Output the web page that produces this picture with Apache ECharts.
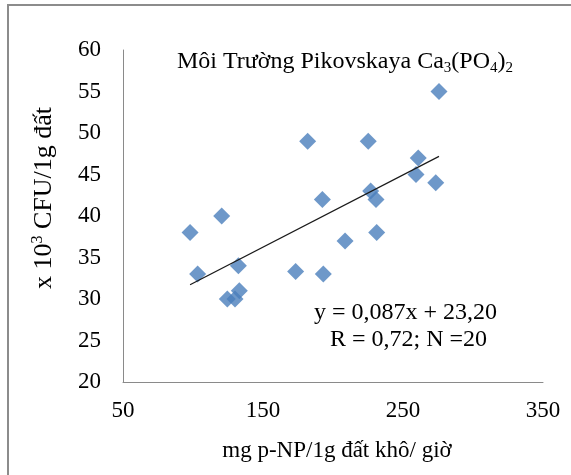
<!DOCTYPE html>
<html>
<head>
<meta charset="utf-8">
<script src="https://cdn.jsdelivr.net/npm/echarts@6/dist/echarts.min.js"></script>
<style>
  html, body { margin: 0; padding: 0; background: #ffffff; }
  #chart { width: 571px; height: 475px; }
</style>
</head>
<body>
<div id="chart"></div>
<script>
// Phosphatase activity (mg p-NP / 1 g dry soil / hour) per sample
const activity = [97.9, 103.3, 120.5, 132.4, 133.1, 124.5, 130.0, 173.3, 181.9, 192.4,
                  193.1, 208.6, 225.2, 226.9, 230.7, 231.2, 259.3, 260.9, 273.4, 275.7];
// Colony counts (x 10^3 CFU / 1 g soil) per sample
const cfu = [38, 33, 40, 34, 31, 30, 30, 33.3, 49, 42,
             33, 37, 49, 43, 42, 38, 45, 47, 44, 55];

// Axis ranges
const xTicks = [50, 150, 250, 350];
const yTicks = [20, 25, 30, 35, 40, 45, 50, 55, 60];

// Linear fit stated on the chart: y = 0,087x + 23,20
const fitSlope = 0.087;
const fitIntercept = 23.20;

const serif = '"Liberation Serif", "Times New Roman", serif';

const points = activity.map((x, i) => [x, cfu[i]]);
const xMin = Math.min(...activity);
const xMax = Math.max(...activity);
const fitLine = [
  [xMin, fitSlope * xMin + fitIntercept],
  [xMax, fitSlope * xMax + fitIntercept]
];

const chart = echarts.init(document.getElementById('chart'), null, { renderer: 'canvas' });

chart.setOption({
  animation: false,
  backgroundColor: '#ffffff',
  grid: { left: 123, top: 50, right: 28, bottom: 93, containLabel: false },
  xAxis: {
    type: 'value',
    min: xTicks[0],
    max: xTicks[xTicks.length - 1],
    interval: xTicks[1] - xTicks[0],
    axisLine: { show: true, onZero: false, lineStyle: { color: '#8a8a8a', width: 1 } },
    axisTick: { show: false },
    splitLine: { show: false },
    axisLabel: { color: '#000', fontFamily: serif, fontSize: 23, margin: 17 }
  },
  yAxis: {
    type: 'value',
    min: yTicks[0],
    max: yTicks[yTicks.length - 1],
    interval: yTicks[1] - yTicks[0],
    axisLine: { show: true, onZero: false, lineStyle: { color: '#8a8a8a', width: 1 } },
    axisTick: { show: false },
    splitLine: { show: false },
    axisLabel: { color: '#000', fontFamily: serif, fontSize: 23, margin: 22 }
  },
  series: [
    {
      type: 'scatter',
      data: points,
      symbol: 'diamond',
      symbolSize: 17,
      itemStyle: { color: '#4a7ebb' },
      z: 3
    },
    {
      type: 'line',
      data: fitLine,
      symbol: 'none',
      lineStyle: { color: '#1a1a1a', width: 1.2 },
      z: 4
    }
  ],
  graphic: [
    {
      type: 'rect',
      shape: { x: 8, y: 5, width: 620, height: 520 },
      style: { fill: 'none', stroke: '#8c8c8c', lineWidth: 2 },
      silent: true
    },
    {
      type: 'text',
      x: 177,
      y: 62,
      style: {
        text: 'Môi Trường Pikovskaya Ca{sub|3}(PO{sub|4}){sub|2}',
        fontFamily: serif,
        fontSize: 24,
        fill: '#000',
        align: 'left',
        verticalAlign: 'middle',
        rich: {
          sub: { fontFamily: serif, fontSize: 15, fill: '#000', padding: [13, 0, 0, 0] }
        }
      }
    },
    {
      type: 'text',
      x: 44,
      y: 198,
      rotation: Math.PI / 2,
      style: {
        text: 'x 10{sup|3} CFU/1g đất',
        fontFamily: serif,
        fontSize: 26,
        fill: '#000',
        align: 'center',
        verticalAlign: 'middle',
        rich: {
          sup: { fontFamily: serif, fontSize: 16, fill: '#000', padding: [0, 0, 12, 0] }
        }
      }
    },
    {
      type: 'text',
      x: 337,
      y: 451,
      style: {
        text: 'mg p-NP/1g đất khô/ giờ',
        fontFamily: serif,
        fontSize: 23,
        fill: '#000',
        align: 'center',
        verticalAlign: 'middle'
      }
    },
    {
      type: 'text',
      x: 497,
      y: 313,
      style: {
        text: 'y = 0,087x + 23,20',
        fontFamily: serif,
        fontSize: 24,
        fill: '#000',
        align: 'right',
        verticalAlign: 'middle'
      }
    },
    {
      type: 'text',
      x: 487,
      y: 340,
      style: {
        text: 'R = 0,72; N =20',
        fontFamily: serif,
        fontSize: 24,
        fill: '#000',
        align: 'right',
        verticalAlign: 'middle'
      }
    }
  ]
});
</script>
</body>
</html>
